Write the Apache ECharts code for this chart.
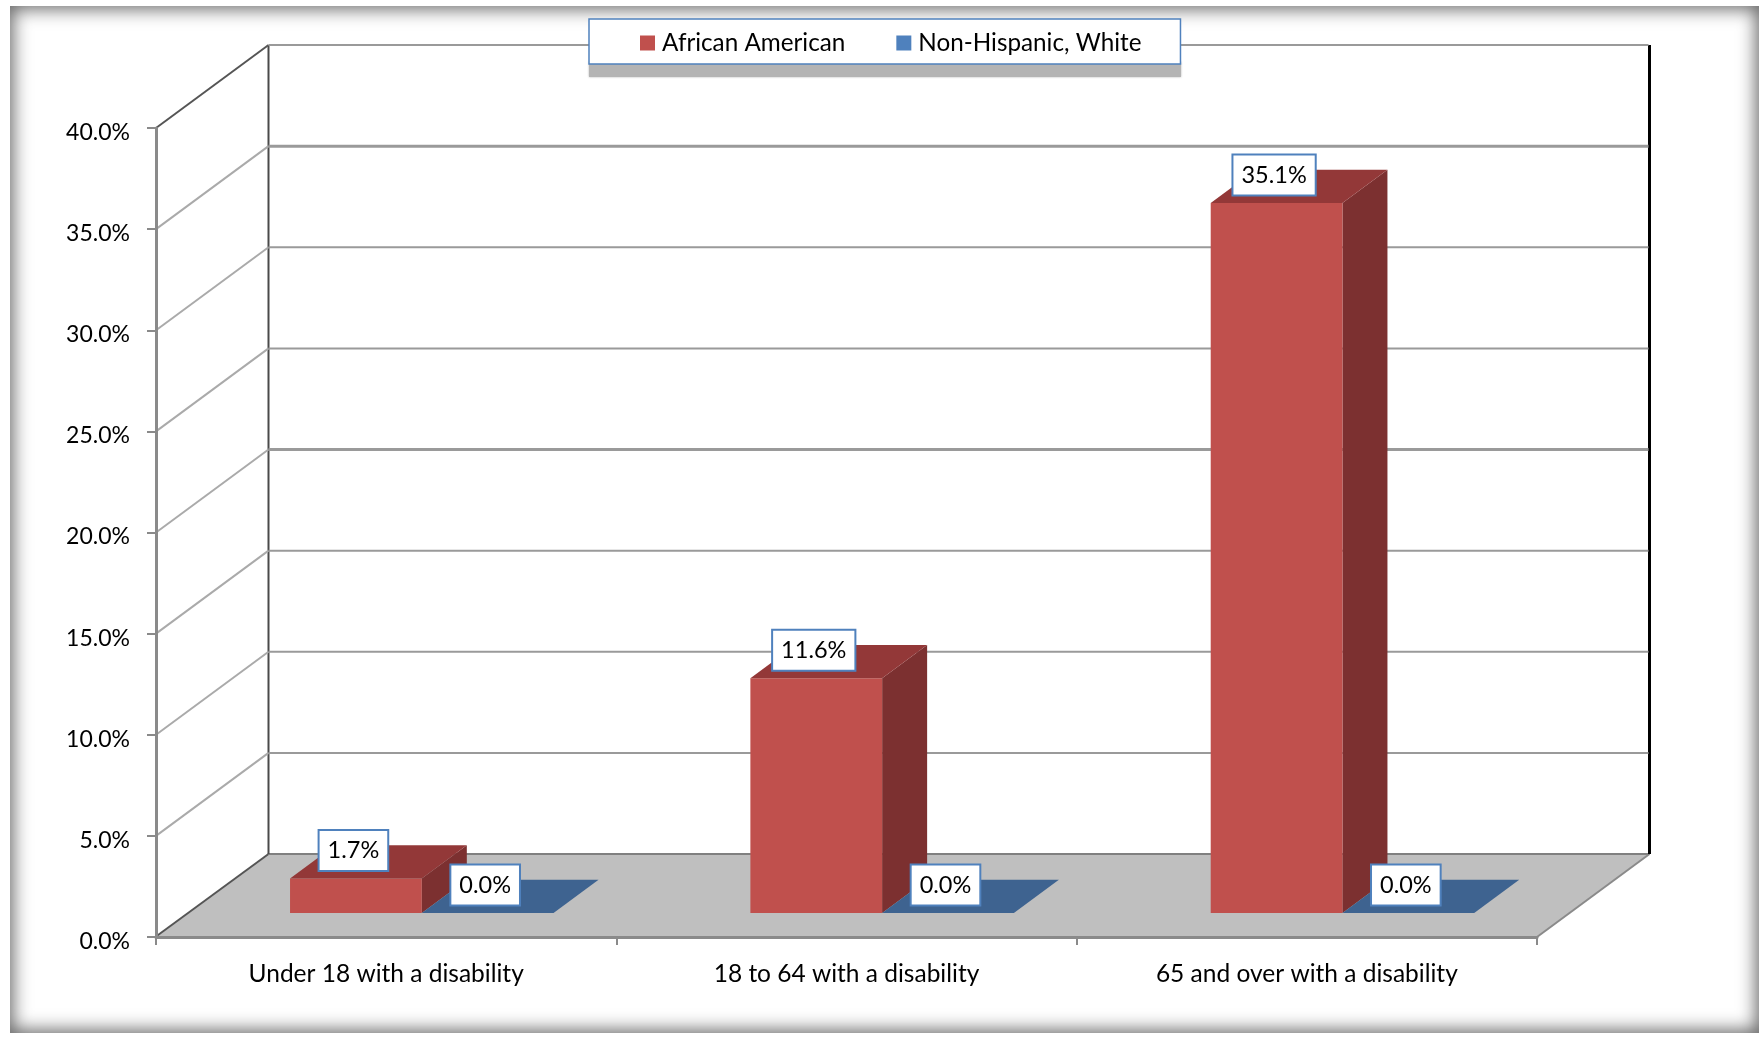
<!DOCTYPE html>
<html>
<head>
<meta charset="utf-8">
<style>
html,body{margin:0;padding:0;background:#fff;width:1762px;height:1038px;overflow:hidden}
#frame{position:absolute;left:10px;top:6px;width:1749px;height:1027px;box-sizing:border-box;box-shadow:inset 0 0 18px 3px #666}
#chart{position:absolute;left:0;top:0;width:1762px;height:1038px}
</style>
<script src="https://cdn.jsdelivr.net/npm/echarts@6/dist/echarts.min.js"></script>
</head>
<body>
<div id="frame"></div>
<div id="chart"></div>
<script>
const categories = ['Under 18 with a disability', '18 to 64 with a disability', '65 and over with a disability'];
const africanAmerican = [1.7, 11.6, 35.1];
const nonHispanicWhite = [0.0, 0.0, 0.0];
const yTicks = [0, 5, 10, 15, 20, 25, 30, 35, 40];
const seriesNames = ['African American', 'Non-Hispanic, White'];

const FONT = 'Lato, "Open Sans", sans-serif';
const DEPTH_X = 112.5, DEPTH_Y = 83;      // floor depth in pixels
const BAR_DEPTH_START = 0.29, BAR_DEPTH = 0.40;
const BAR_SHARE = 0.2862, BAR_SHIFT = 3, LABEL_SHIFT = -2.5;

function line(x1, y1, x2, y2, stroke, lineWidth) {
  return { type: 'line', shape: { x1, y1, x2, y2 }, style: { stroke, lineWidth } };
}
function poly(points, fill) {
  return { type: 'polygon', shape: { points }, style: { fill } };
}

function renderWalls(params, api) {
  const v = api.value(1);
  const cs = params.coordSys;
  const y = api.coord([0, v])[1];
  const left = cs.x, right = cs.x + cs.width;
  const children = [];
  if (v === 0) {
    const top = api.coord([0, 40])[1];
    children.push(poly([[left, y], [right, y], [right + DEPTH_X, y - DEPTH_Y], [left + DEPTH_X, y - DEPTH_Y]], '#bfbfbf'));
    children.push(line(left, y - 0.5, left + DEPTH_X, y - DEPTH_Y, '#555555', 2));
    children.push(line(right, y, right + DEPTH_X, y - DEPTH_Y, '#8a8a8a', 2));
    children.push(line(left + DEPTH_X, y - DEPTH_Y, right + DEPTH_X, y - DEPTH_Y, '#808080', 2));
    children.push(line(left + DEPTH_X, top - DEPTH_Y, left + DEPTH_X, y - DEPTH_Y, '#4a4a4a', 2));
    children.push(line(right + DEPTH_X, top - DEPTH_Y, right + DEPTH_X, y - DEPTH_Y, '#000000', 3));
  } else {
    const heavy = v === 35 || v === 20;
    children.push(line(left, y, left + DEPTH_X, y - DEPTH_Y, v === 40 ? '#555555' : '#aaaaaa', 2));
    children.push(line(left + DEPTH_X, y - DEPTH_Y, right + DEPTH_X - 1, y - DEPTH_Y, '#9a9a9a', heavy ? 3 : 2));
  }
  return { type: 'group', children };
}

function barRenderer(slot, front, topFace, side) {
  return function (params, api) {
    const i = api.value(0), v = api.value(1);
    const band = api.size([1, 0])[0];
    const w = band * BAR_SHARE;
    const c = api.coord([i, v]);
    const b = api.coord([i, 0]);
    const dx0 = DEPTH_X * BAR_DEPTH_START, dy0 = DEPTH_Y * BAR_DEPTH_START;
    const dx = DEPTH_X * BAR_DEPTH, dy = DEPTH_Y * BAR_DEPTH;
    const x0 = c[0] + dx0 + BAR_SHIFT + (slot - 1) * w, x1 = x0 + w;
    const yT = c[1] - dy0, yB = b[1] - dy0;
    const children = [];
    if (yB - yT > 0.5) {
      children.push(poly([[x1, yT], [x1 + dx, yT - dy], [x1 + dx, yB - dy], [x1, yB]], side));
      children.push({ type: 'rect', shape: { x: x0, y: yT, width: w, height: yB - yT }, style: { fill: front } });
    }
    children.push(poly([[x0, yT], [x1, yT], [x1 + dx, yT - dy], [x0 + dx, yT - dy]], topFace));
    children.push({
      type: 'text', z2: 100,
      style: {
        text: v.toFixed(1) + '%', x: (x0 + x1) / 2 + LABEL_SHIFT, y: yT - 28,
        align: 'center', verticalAlign: 'middle', fill: '#000', font: '23.5px ' + FONT,
        backgroundColor: '#fff', borderColor: '#4f81bd', borderWidth: 2, padding: [8, 8, 7, 8]
      }
    });
    return { type: 'group', children };
  };
}

const chart = echarts.init(document.getElementById('chart'), null, { renderer: 'canvas', width: 1762, height: 1038 });
chart.setOption({
  animation: false,
  backgroundColor: 'transparent',
  textStyle: { fontFamily: FONT },
  grid: { left: 156, right: 225, top: 128, bottom: 101, containLabel: false },
  graphic: [{
    type: 'rect', z: 3, shape: { x: 589, y: 62, width: 592, height: 15 },
    style: { fill: '#b4b4b4', shadowColor: '#b4b4b4', shadowBlur: 2 }
  }],
  legend: {
    data: seriesNames, left: 589, top: 19, z: 6,
    padding: [12, 39, 9, 51], itemGap: 51, itemWidth: 15, itemHeight: 15, icon: 'rect',
    backgroundColor: '#fff', borderColor: '#4f81bd', borderWidth: 1.5,
    textStyle: { fontFamily: FONT, fontSize: 24.25, color: '#000', padding: [0, 0, 0, 2] }
  },
  xAxis: {
    type: 'category', data: categories, z: 5,
    axisLine: { lineStyle: { color: '#8a8a8a', width: 3 } },
    axisTick: { show: true, alignWithLabel: false, length: 8, lineStyle: { color: '#8a8a8a', width: 2 } },
    axisLabel: { fontFamily: FONT, fontSize: 24.5, color: '#000', margin: 25 },
    splitLine: { show: false }
  },
  yAxis: {
    type: 'value', min: 0, max: 40, interval: 5, z: 5,
    axisLine: { show: true, lineStyle: { color: '#8a8a8a', width: 3 } },
    axisTick: { show: true, length: 9, lineStyle: { color: '#8a8a8a', width: 2 } },
    axisLabel: {
      fontFamily: FONT, color: '#000', margin: 26,
      formatter: v => '{t|' + v.toFixed(1) + '%}',
      rich: { t: { fontFamily: FONT, fontSize: 23, color: '#000', padding: [9, 0, 0, 0] } }
    },
    splitLine: { show: false }
  },
  series: [
    { type: 'custom', name: 'walls', z: 1, silent: true, renderItem: renderWalls,
      encode: { x: 0, y: 1 }, data: yTicks.map(v => [0, v]) },
    { type: 'custom', name: seriesNames[0], z: 2, itemStyle: { color: '#c0504d' },
      renderItem: barRenderer(0, '#c0504d', '#933838', '#7c3030'),
      encode: { x: 0, y: 1 }, data: africanAmerican.map((v, i) => [i, v]) },
    { type: 'custom', name: seriesNames[1], z: 3, itemStyle: { color: '#4f81bd' },
      renderItem: barRenderer(1, '#4f81bd', '#3e6390', '#385d8a'),
      encode: { x: 0, y: 1 }, data: nonHispanicWhite.map((v, i) => [i, v]) }
  ]
});
</script>
</body>
</html>
